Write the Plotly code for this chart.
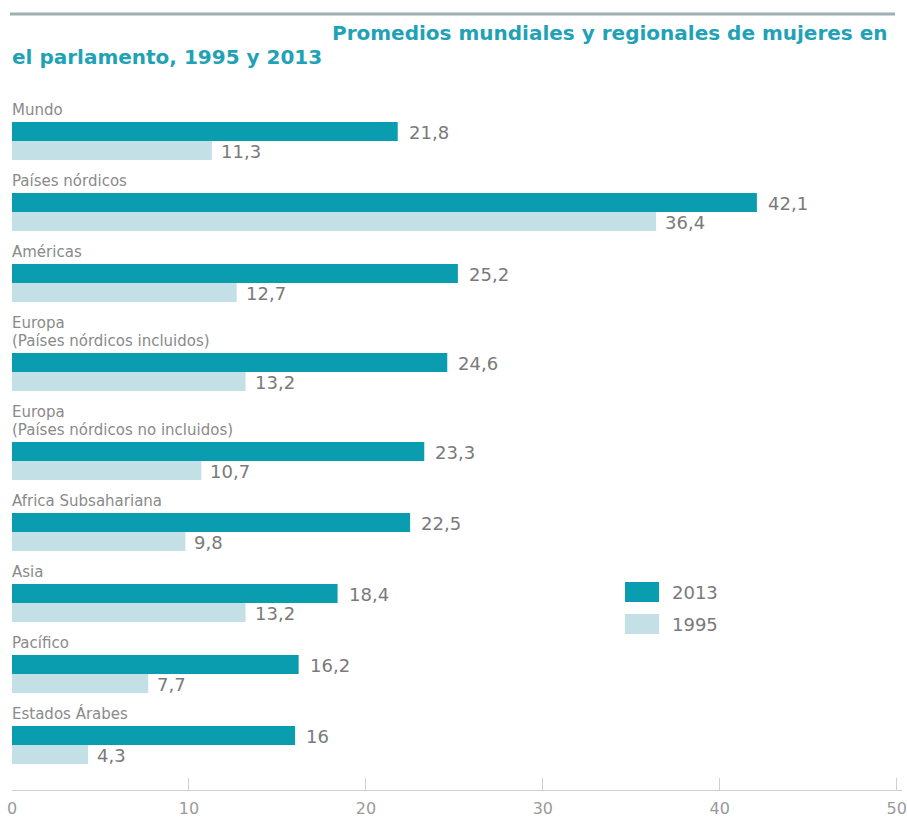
import plotly.graph_objects as go

# ---------------- data ----------------
categories = [
    "Mundo",
    "Países nórdicos",
    "Américas",
    "Europa\n(Países nórdicos incluidos)",
    "Europa\n(Países nórdicos no incluidos)",
    "Africa Subsahariana",
    "Asia",
    "Pacífico",
    "Estados Árabes",
]
values_2013 = [21.8, 42.1, 25.2, 24.6, 23.3, 22.5, 18.4, 16.2, 16.0]
values_1995 = [11.3, 36.4, 12.7, 13.2, 10.7, 9.8, 13.2, 7.7, 4.3]
series_names = ["2013", "1995"]
x_ticks = [0, 10, 20, 30, 40, 50]
title_line1 = "Promedios mundiales y regionales de mujeres en"
title_line2 = "el parlamento, 1995 y 2013"

# ---------------- styles ----------------
C2013 = "#0a9db0"
C1995 = "#c4e0e7"
TITLE_C = "#1fa2b5"
LABEL_C = "#8a8a8a"
VALUE_C = "#7a7a7a"
AXIS_C = "#cfcfcf"
FONT = "DejaVu Sans"

W, H = 907, 817
ML, MR, MT, MB = 12, 5, 0, 27
PLOT_H = H - MT - MB          # y data units == pixels from top of plot area
XMAX = 50.3

LINE = 18      # label line height
BAR = 19       # bar thickness
PAD_A = 5      # label block -> bar
GAP = 10       # pair -> next label
START = 99

# compute group layout from the number of label lines
lines = [c.split("\n") for c in categories]
bar_tops = []
cursor = START
for ls in lines:
    top = cursor + len(ls) * LINE + PAD_A
    bar_tops.append(top)
    cursor = top + 2 * BAR + GAP
y2013 = [t + BAR / 2 for t in bar_tops]
y1995 = [t + BAR * 1.5 for t in bar_tops]


def fmt(v):
    return f"{v:g}".replace(".", ",")


fig = go.Figure()
fig.add_trace(go.Bar(
    x=values_2013, y=y2013, orientation="h", width=BAR, name=series_names[0],
    marker=dict(color=C2013, line=dict(width=0)), showlegend=False,
    hoverinfo="x",
))
fig.add_trace(go.Bar(
    x=values_1995, y=y1995, orientation="h", width=BAR, name=series_names[1],
    marker=dict(color=C1995, line=dict(width=0)), showlegend=False,
    hoverinfo="x",
))

annotations = []
# category labels above each pair
for ls, top in zip(lines, bar_tops):
    n = len(ls)
    for k, txt in enumerate(ls):
        yc = top - 12.5 - (n - 1 - k) * LINE
        annotations.append(dict(
            x=0, y=yc, xref="x", yref="y", text=txt, showarrow=False,
            xanchor="left", yanchor="middle", xshift=-2,
            font=dict(family=FONT, size=15, color=LABEL_C),
        ))
# value labels
for v, yc in zip(values_2013, y2013):
    annotations.append(dict(
        x=v, y=yc + 1, xref="x", yref="y", text=fmt(v), showarrow=False,
        xanchor="left", yanchor="middle", xshift=9,
        font=dict(family=FONT, size=18, color=VALUE_C),
    ))
for v, yc in zip(values_1995, y1995):
    annotations.append(dict(
        x=v, y=yc + 1, xref="x", yref="y", text=fmt(v), showarrow=False,
        xanchor="left", yanchor="middle", xshift=7,
        font=dict(family=FONT, size=18, color=VALUE_C),
    ))

# title
PW = W - ML - MR
annotations.append(dict(
    x=(890 - ML) / PW, y=33, xref="paper", yref="y", text=f"<b>{title_line1}</b>",
    showarrow=False, xanchor="right", yanchor="middle",
    font=dict(family=FONT, size=20, color=TITLE_C),
))
annotations.append(dict(
    x=0, y=57, xref="paper", yref="y", text=f"<b>{title_line2}</b>",
    showarrow=False, xanchor="left", yanchor="middle", xshift=-2,
    font=dict(family=FONT, size=20, color=TITLE_C),
))

# manual legend
shapes = [
    dict(type="line", xref="paper", yref="y", x0=(10 - ML) / PW, x1=(895 - ML) / PW,
         y0=14, y1=14, line=dict(color="#9eb0b3", width=3)),
]
leg_rows = [(series_names[0], C2013, 582), (series_names[1], C1995, 614)]
for name, col, ytop in leg_rows:
    shapes.append(dict(type="rect", xref="paper", yref="y",
                       x0=(625 - ML) / PW, x1=(659 - ML) / PW, y0=ytop, y1=ytop + 20,
                       fillcolor=col, line=dict(width=0)))
    annotations.append(dict(
        x=(670 - ML) / PW, y=ytop + 10, xref="paper", yref="y", text=name,
        showarrow=False, xanchor="left", yanchor="middle",
        font=dict(family=FONT, size=18, color=VALUE_C),
    ))

fig.update_layout(
    width=W, height=H,
    margin=dict(l=ML, r=MR, t=MT, b=MB, pad=0),
    paper_bgcolor="white", plot_bgcolor="white",
    barmode="overlay",
    annotations=annotations,
    shapes=shapes,
    xaxis=dict(
        range=[0, XMAX], tickvals=x_ticks, ticktext=[str(t) for t in x_ticks],
        ticks="inside", ticklen=12, tickcolor=AXIS_C, tickwidth=1,
        showline=True, linecolor=AXIS_C, linewidth=1,
        showgrid=False, zeroline=False,
        tickfont=dict(family=FONT, size=16, color="#9a9a9a"),
        ticklabelstandoff=4,
        ticklabeloverflow="allow",
        fixedrange=True,
    ),
    yaxis=dict(range=[PLOT_H, 0], visible=False, fixedrange=True),
)

fig.write_html("out.html")
